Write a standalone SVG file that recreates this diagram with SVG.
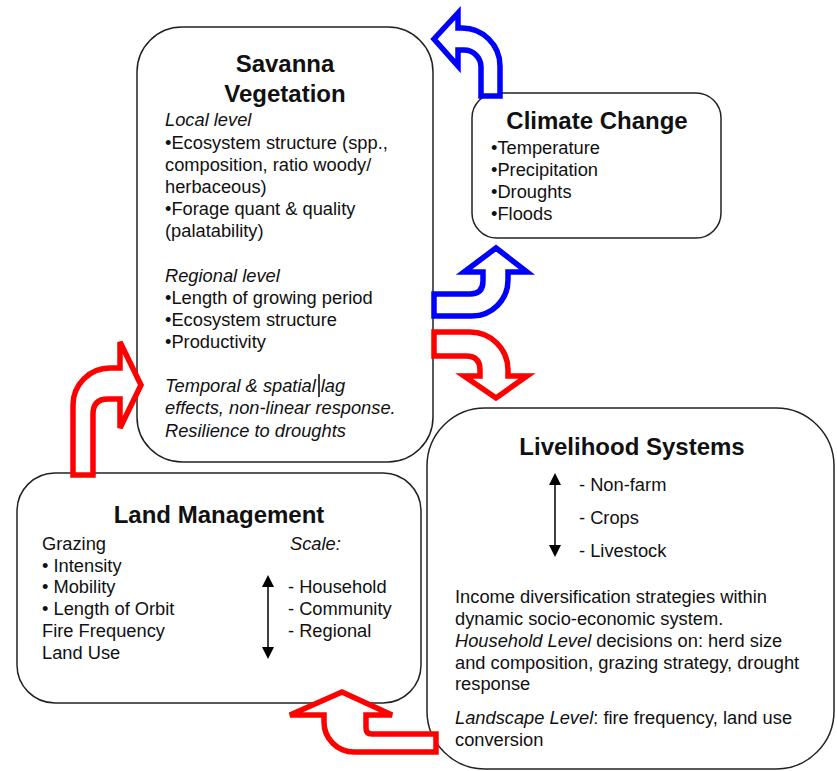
<svg xmlns="http://www.w3.org/2000/svg" width="837" height="771" viewBox="0 0 837 771">
<defs>
<style>
.box{fill:#fff;stroke:#222;stroke-width:1.5}
.t{font-family:"Liberation Sans",Arial,sans-serif;font-size:18.3px;fill:#111}
.h{font-family:"Liberation Sans",Arial,sans-serif;font-size:24px;font-weight:bold;fill:#111;text-anchor:middle}
.i{font-style:italic}
.ba{fill:#fff;stroke:#0000ff;stroke-width:5.5;stroke-linejoin:miter}
.ra{fill:#fff;stroke:#ff0000;stroke-width:5.5;stroke-linejoin:miter}
.dbl{stroke:#000;stroke-width:1.5;fill:none}
</style>
<marker id="ah" viewBox="0 0 12 12" refX="10" refY="6" markerWidth="12" markerHeight="12" markerUnits="userSpaceOnUse" orient="auto-start-reverse">
<path d="M0,0 L12,6 L0,12 Z" fill="#000"/>
</marker>
</defs>
<rect width="837" height="771" fill="#fff"/>

<g id="savanna">
<rect class="box" x="137" y="27" width="296" height="435" rx="45" ry="45"/>
<text class="h" x="285" y="72">Savanna</text>
<text class="h" x="285" y="102">Vegetation</text>
<text class="t i" x="165" y="126">Local level</text>
<text class="t" x="165" y="149">•Ecosystem structure (spp.,</text>
<text class="t" x="165" y="171">composition, ratio woody/</text>
<text class="t" x="165" y="193">herbaceous)</text>
<text class="t" x="165" y="215">•Forage quant &amp; quality</text>
<text class="t" x="165" y="237">(palatability)</text>
<text class="t i" x="165" y="282">Regional level</text>
<text class="t" x="165" y="304">•Length of growing period</text>
<text class="t" x="165" y="326">•Ecosystem structure</text>
<text class="t" x="165" y="348">•Productivity</text>
<text class="t i" x="165" y="392">Temporal &amp; spatial lag</text>
<text class="t i" x="165" y="414">effects, non-linear response.</text>
<text class="t i" x="165" y="437">Resilience to droughts</text>
<line x1="319" y1="374" x2="319" y2="397" stroke="#000" stroke-width="1.5"/>
</g>

<g id="climate">
<rect class="box" x="472" y="93" width="249" height="145" rx="25" ry="25"/>
<text class="h" x="597" y="129">Climate Change</text>
<text class="t" x="491" y="154">•Temperature</text>
<text class="t" x="491" y="176">•Precipitation</text>
<text class="t" x="491" y="198">•Droughts</text>
<text class="t" x="491" y="220">•Floods</text>
</g>

<g id="livelihood">
<rect class="box" x="427" y="408" width="407" height="361" rx="58" ry="58"/>
<text class="h" x="632" y="455">Livelihood Systems</text>
<line class="dbl" x1="555" y1="475" x2="555" y2="555" marker-start="url(#ah)" marker-end="url(#ah)"/>
<text class="t" x="579" y="491">- Non-farm</text>
<text class="t" x="579" y="524">- Crops</text>
<text class="t" x="579" y="557">- Livestock</text>
<text class="t" x="455" y="603">Income diversification strategies within</text>
<text class="t" x="455" y="625">dynamic socio-economic system.</text>
<text class="t" x="455" y="647"><tspan class="i">Household Level</tspan> decisions on: herd size</text>
<text class="t" x="455" y="669">and composition, grazing strategy, drought</text>
<text class="t" x="455" y="690">response</text>
<text class="t" x="455" y="724"><tspan class="i">Landscape Level</tspan>: fire frequency, land use</text>
<text class="t" x="455" y="746">conversion</text>
</g>

<g id="land">
<rect class="box" x="17" y="473" width="404" height="230" rx="38" ry="38"/>
<text class="h" x="219" y="523">Land Management</text>
<text class="t" x="42" y="550">Grazing</text>
<text class="t" x="42" y="572">• Intensity</text>
<text class="t" x="42" y="593">• Mobility</text>
<text class="t" x="42" y="615">• Length of Orbit</text>
<text class="t" x="42" y="637">Fire Frequency</text>
<text class="t" x="42" y="659">Land Use</text>
<text class="t i" x="290" y="550">Scale:</text>
<text class="t" x="288" y="593">- Household</text>
<text class="t" x="288" y="615">- Community</text>
<text class="t" x="288" y="637">- Regional</text>
<line class="dbl" x1="268" y1="577" x2="268" y2="657" marker-start="url(#ah)" marker-end="url(#ah)"/>
</g>

<g id="connectors">
<path class="ba" d="M500,96 L500,66 A38,38 0 0 0 462,28 L458,28 L458,13 L434,39 L458,66 L458,50 L464,50 A17,17 0 0 1 481,67 L481,96 Z"/>
<path class="ba" d="M434,294 L470,294 Q483,294 483,281 L483,272 L464,272 L496,248 L527,272 L508,272 L508,280 A36,36 0 0 1 472,316 L434,316 Z"/>
<path class="ra" d="M434,332 L470,332 A38,38 0 0 1 508,370 L508,376 L527,376 L496,398 L464,376 L480,376 L480,370 Q480,356 466,356 L434,356 Z"/>
<path class="ra" d="M73,475 L73,405 A37,37 0 0 1 110,368 L120,368 L120,342 L141,385 L120,428 L120,399 L108,399 Q93,399 93,414 L93,475 Z"/>
<path class="ra" d="M436,734 L372,734 Q366,734 366,728 L366,715 L392,715 L342,692 L290,715 L324,715 L324,722 A30,30 0 0 0 354,752 L436,752 Z"/>
</g>
</svg>
